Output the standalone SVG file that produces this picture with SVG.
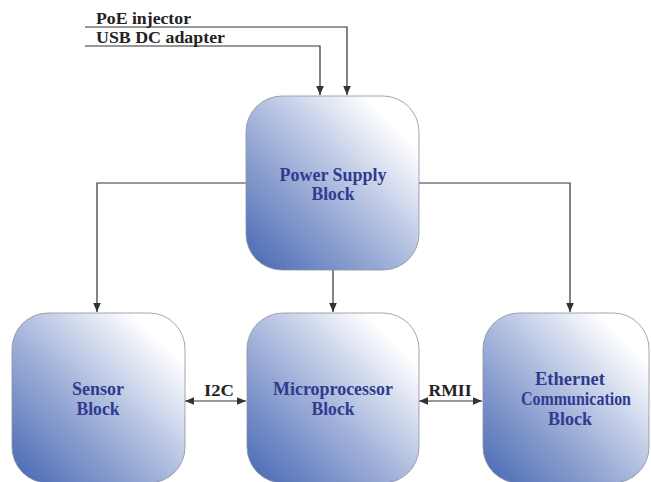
<svg xmlns="http://www.w3.org/2000/svg" width="651" height="482" viewBox="0 0 651 482">
<style>
.box{fill:url(#g);stroke:#8a8f9c;stroke-width:0.8}
.lbl{font-family:"Liberation Serif","Times New Roman",serif;font-weight:bold;font-size:19px;fill:#2f3b8f;text-anchor:middle}
.t{font-family:"Liberation Serif","Times New Roman",serif;font-weight:bold;font-size:17px;fill:#222}
.ln{fill:none;stroke:#333;stroke-width:1.2}
</style>
<defs>
<linearGradient id="g" x1="0" y1="1" x2="1" y2="0">
<stop offset="0" stop-color="#4466b2"/>
<stop offset="0.45" stop-color="#a3b3da"/>
<stop offset="0.85" stop-color="#ffffff"/>
</linearGradient>
<marker id="a" markerWidth="10" markerHeight="10" refX="9" refY="5" orient="auto-start-reverse" markerUnits="userSpaceOnUse">
<path d="M0,1.2 L9,5 L0,8.8 Z" fill="#333"/>
</marker>
</defs>
<g id="connectors">
<polyline class="ln" points="85,27 347,27 347,95" marker-end="url(#a)"/>
<polyline class="ln" points="85,46 320,46 320,95" marker-end="url(#a)"/>
<polyline class="ln" points="246,183 97,183 97,312" marker-end="url(#a)"/>
<polyline class="ln" points="419,183 570,183 570,312" marker-end="url(#a)"/>
<line class="ln" x1="333" y1="270" x2="333" y2="312" marker-end="url(#a)"/>
<line class="ln" x1="185" y1="401" x2="246" y2="401" marker-start="url(#a)" marker-end="url(#a)"/>
<line class="ln" x1="419" y1="401" x2="482" y2="401" marker-start="url(#a)" marker-end="url(#a)"/>
<text class="t" x="96" y="24" textLength="95" lengthAdjust="spacingAndGlyphs">PoE injector</text>
<text class="t" x="96" y="43" textLength="129" lengthAdjust="spacingAndGlyphs">USB DC adapter</text>
<text class="t" x="219" y="396" text-anchor="middle" textLength="30" lengthAdjust="spacingAndGlyphs">I2C</text>
<text class="t" x="450" y="396" text-anchor="middle" textLength="43" lengthAdjust="spacingAndGlyphs">RMII</text>
</g>
<g id="power">
<rect class="box" x="246" y="96" width="173" height="174" rx="36"/>
<text class="lbl" x="333" y="181" textLength="107" lengthAdjust="spacingAndGlyphs">Power Supply</text>
<text class="lbl" x="333" y="200" textLength="43" lengthAdjust="spacingAndGlyphs">Block</text>
</g>
<g id="sensor">
<rect class="box" x="12" y="313" width="173" height="170" rx="36"/>
<text class="lbl" x="98" y="395" textLength="52" lengthAdjust="spacingAndGlyphs">Sensor</text>
<text class="lbl" x="98" y="415" textLength="43" lengthAdjust="spacingAndGlyphs">Block</text>
</g>
<g id="micro">
<rect class="box" x="247" y="313" width="172" height="170" rx="36"/>
<text class="lbl" x="333" y="395" textLength="120" lengthAdjust="spacingAndGlyphs">Microprocessor</text>
<text class="lbl" x="333" y="415" textLength="43" lengthAdjust="spacingAndGlyphs">Block</text>
</g>
<g id="ethernet">
<rect class="box" x="483" y="313" width="166" height="170" rx="36"/>
<text class="lbl" x="570" y="385" textLength="70" lengthAdjust="spacingAndGlyphs">Ethernet</text>
<text class="lbl" x="576" y="405" textLength="110" lengthAdjust="spacingAndGlyphs">Communication</text>
<text class="lbl" x="570" y="425" textLength="44" lengthAdjust="spacingAndGlyphs">Block</text>
</g>
</svg>
